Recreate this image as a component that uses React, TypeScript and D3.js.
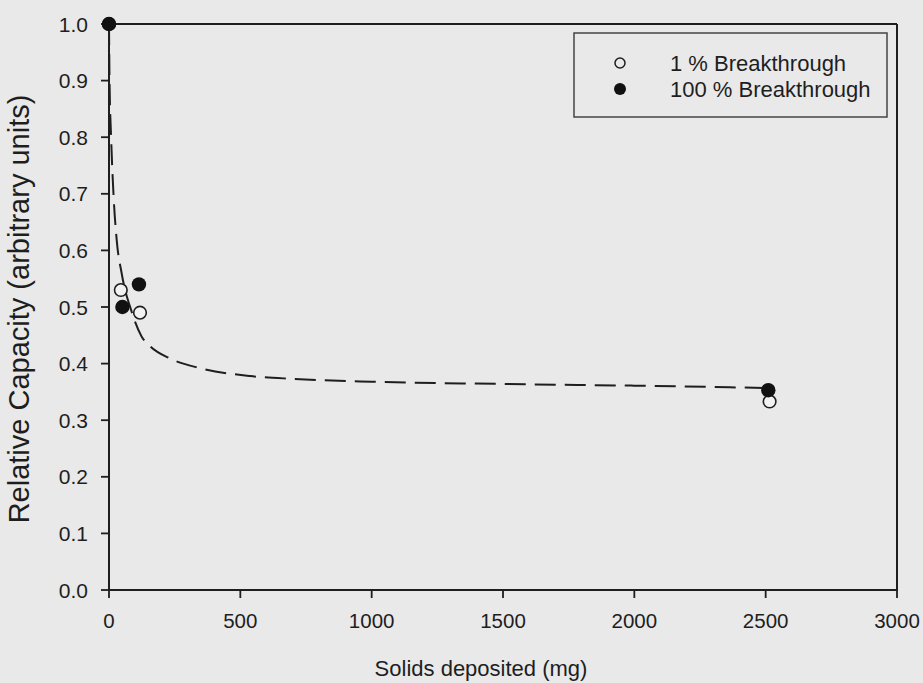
import React from "react";
import * as d3 from "d3";

const xTicks = [0, 500, 1000, 1500, 2000, 2500, 3000];
const yTicks = [0, 0.1, 0.2, 0.3, 0.4, 0.5, 0.6, 0.7, 0.8, 0.9, 1.0];

const openX = [0, 45, 118, 2515];
const openY = [1.0, 0.53, 0.49, 0.333];
const filledX = [0, 51, 114, 2510];
const filledY = [1.0, 0.5, 0.54, 0.353];

const fitX = [0, 2, 8, 17, 29, 48, 86, 124, 156, 232, 346, 537, 702, 1000, 1500, 2000, 2500];
const fitY = [1.0, 0.9, 0.8, 0.7, 0.62, 0.56, 0.492, 0.448, 0.431, 0.409, 0.392, 0.378, 0.373, 0.368, 0.364, 0.361, 0.357];

const legendLabels = ["1 % Breakthrough", "100 % Breakthrough"];

export default function App() {
  const W = 923, H = 683;
  const left = 109, right = 897, top = 24, bottom = 590;
  const x = d3.scaleLinear().domain([0, 3000]).range([left, right]);
  const y = d3.scaleLinear().domain([0, 1]).range([bottom, top]);
  const font = "'Liberation Sans', Arial, sans-serif";
  const ink = "#1e1e1e";

  const fitPts: [number, number][] = fitX.map((v, i) => [v, fitY[i]]);
  const line = d3
    .line<[number, number]>()
    .x((d) => x(d[0]))
    .y((d) => y(d[1]))
    .curve(d3.curveMonotoneX);

  return (
    <svg
      width={W}
      height={H}
      style={{ position: "absolute", left: 0, top: 0, background: "#e9e9e9" }}
      fontFamily={font}
    >
      <rect x={0} y={0} width={W} height={H} fill="#e9e9e9" />
      {/* frame */}
      <line x1={left} y1={top} x2={right} y2={top} stroke={ink} strokeWidth={2} />
      <line x1={right} y1={top} x2={right} y2={bottom} stroke={ink} strokeWidth={2} />
      <line x1={left} y1={top} x2={left} y2={bottom + 1} stroke={ink} strokeWidth={2} />
      <line x1={left - 1} y1={bottom} x2={right + 1} y2={bottom} stroke={ink} strokeWidth={2} />

      {yTicks.map((t) => (
        <g key={"y" + t}>
          <line x1={left - 8} x2={left} y1={y(t)} y2={y(t)} stroke={ink} strokeWidth={1.8} />
          <text x={88} y={y(t)} dy="0.36em" textAnchor="end" fontSize={21} fill={ink}>
            {t.toFixed(1)}
          </text>
        </g>
      ))}
      {xTicks.map((t) => (
        <g key={"x" + t}>
          <line x1={x(t)} x2={x(t)} y1={bottom} y2={bottom + 8} stroke={ink} strokeWidth={1.8} />
          <text x={x(t)} y={628} textAnchor="middle" fontSize={20.5} fill={ink}>
            {t}
          </text>
        </g>
      ))}

      <text x={481} y={676} textAnchor="middle" fontSize={22} fill={ink}>
        Solids deposited (mg)
      </text>
      <text
        transform={`translate(29, 309) rotate(-90)`}
        textAnchor="middle"
        fontSize={29}
        fill={ink}
      >
        Relative Capacity (arbitrary units)
      </text>

      <path
        d={line(fitPts) || ""}
        fill="none"
        stroke={ink}
        strokeWidth={2}
        strokeDasharray="21 9"
      />

      {openX.map((v, i) => (
        <circle key={"o" + i} cx={x(v)} cy={y(openY[i])} r={6.3} fill="#f2f2f2" stroke={ink} strokeWidth={1.6} />
      ))}
      {filledX.map((v, i) => (
        <circle key={"f" + i} cx={x(v)} cy={y(filledY[i])} r={7.2} fill="#111" />
      ))}

      {/* legend */}
      <rect x={574} y={33} width={313} height={84} fill="none" stroke="#444" strokeWidth={1.5} />
      <circle cx={620} cy={63} r={5} fill="none" stroke={ink} strokeWidth={1.5} />
      <circle cx={620} cy={89} r={6} fill="#111" />
      <text x={670} y={63} dy="0.36em" fontSize={22} fill={ink}>
        {legendLabels[0]}
      </text>
      <text x={670} y={89} dy="0.36em" fontSize={22} fill={ink}>
        {legendLabels[1]}
      </text>
    </svg>
  );
}
